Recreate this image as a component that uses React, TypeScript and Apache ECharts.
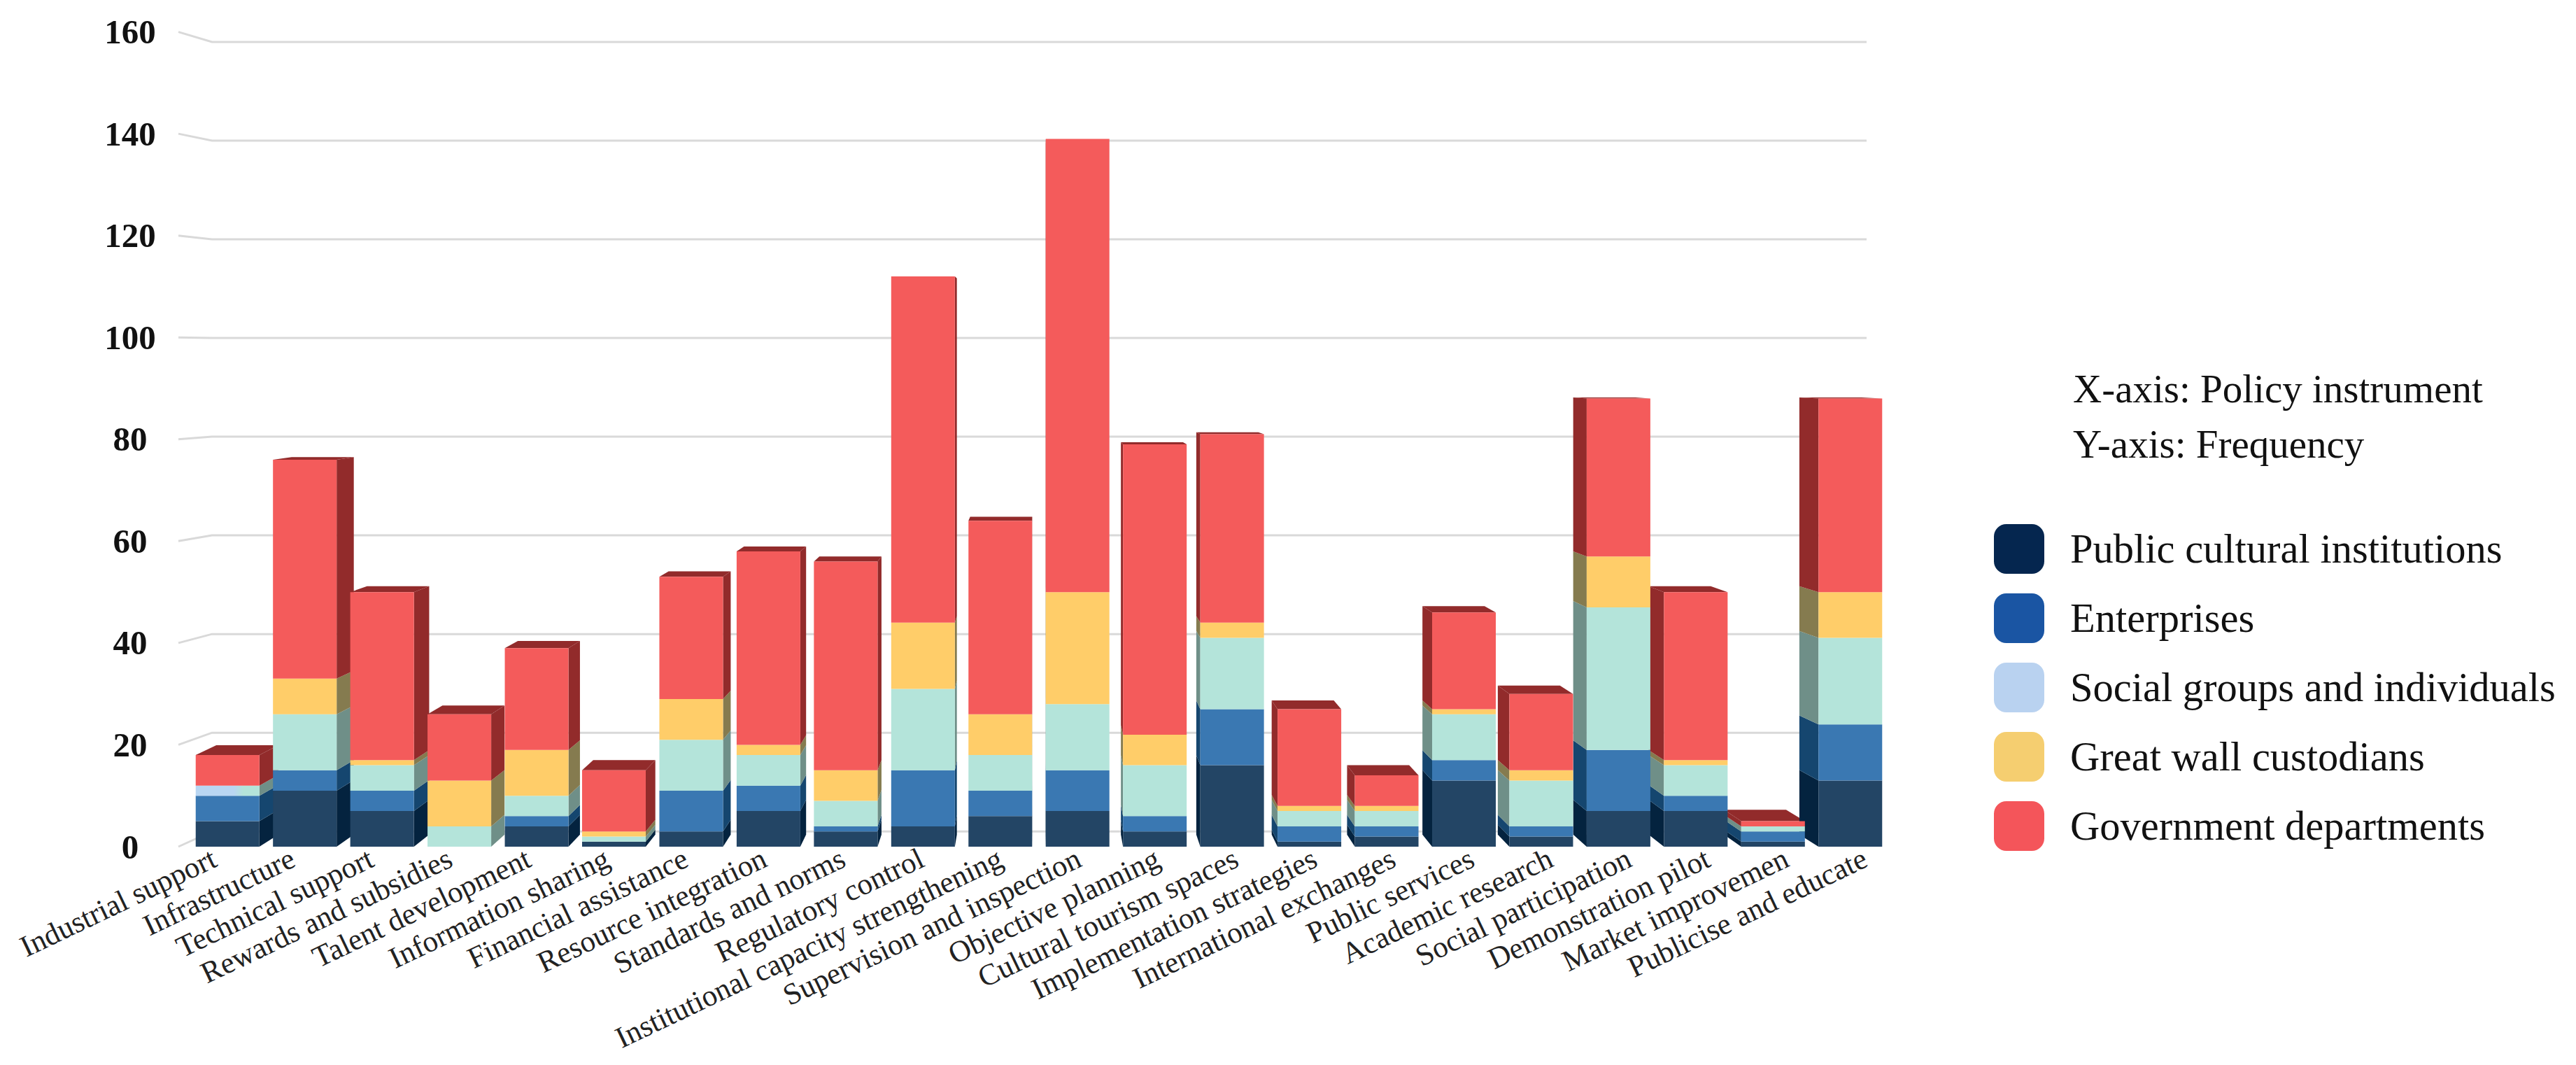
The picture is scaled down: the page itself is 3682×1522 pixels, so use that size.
import React, { useEffect, useRef } from "react";
import * as echarts from "echarts";

const categories = ["Industrial support","Infrastructure","Technical support","Rewards and subsidies","Talent development","Information sharing","Financial assistance","Resource integration","Standards and norms","Regulatory control","Institutional capacity strengthening","Supervision and inspection","Objective planning","Cultural tourism spaces","Implementation strategies","International exchanges","Public services","Academic research","Social participation","Demonstration pilot","Market improvemen","Publicise and educate"];
const publicInstitutions = [5,11,7,0,4,1,3,7,3,4,6,7,3,16,1,2,13,2,7,7,1,13];
const enterprises = [5,4,4,0,2,0,8,5,1,11,5,8,3,11,3,2,4,2,12,3,2,11];
const socialGroups = [2,11,5,4,4,1,10,6,5,16,7,13,10,14,3,3,9,9,28,6,1,17];
const custodians = [0,7,1,9,9,1,8,2,6,13,8,22,6,3,1,1,1,2,10,1,0,9];
const government = [6,43,33,13,20,12,24,38,41,68,38,89,57,37,19,6,19,15,31,33,1,38];
const seriesNames = ["Public cultural institutions","Enterprises","Social groups and individuals","Great wall custodians","Government departments"];
const seriesValues = [publicInstitutions, enterprises, socialGroups, custodians, government];
const frontColors = ["#234565","#3A78B2","#B4E4DA","#FFCD69","#F45B5B"];
const sideColors = ["#04233F","#15466F","#6F8F88","#857B4F","#922B2B"];
const legendColors = ["#05264F","#1A55A3","#B9D2F0","#F5CE70","#F4555A"];
const yTicks = [0,20,40,60,80,100,120,140,160];
const axisNotes = ["X-axis: Policy instrument","Y-axis: Frequency"];

const FONT = "'Liberation Serif', serif";
const VP_X = 1482, VP_Y = 507, DEPTH = 0.0245, WALL_DEPTH = 0.031, BAR_W = 91;

const faces: number[][] = [];
categories.forEach((_, i) => {
  let low = 0;
  const total = seriesValues.reduce((s, a) => s + a[i], 0);
  seriesValues.forEach((a, s) => {
    if (a[i] > 0) faces.push([i, low, low + a[i], s, low + a[i] === total ? 1 : 0]);
    low += a[i];
  });
});

const proj = (x: number, y: number) => [x + DEPTH * (VP_X - x), y + DEPTH * (VP_Y - y)];

const renderFaces = (_: any, api: any) => {
  const i = api.value(0), lo = api.value(1), hi = api.value(2), s = api.value(3), isTop = api.value(4);
  const [cx, y0] = api.coord([i, lo]);
  const [, y1] = api.coord([i, hi]);
  const xL = cx - BAR_W / 2, xR = cx + BAR_W / 2;
  const children: any[] = [];
  const edge = xR < VP_X ? xR : xL > VP_X ? xL : null;
  if (edge !== null) {
    children.push({ type: "polygon", shape: { points: [[edge, y1], [edge, y0], proj(edge, y0), proj(edge, y1)] }, style: { fill: sideColors[s] } });
  }
  if (isTop && y1 > VP_Y) {
    children.push({ type: "polygon", shape: { points: [[xL, y1], [xR, y1], proj(xR, y1), proj(xL, y1)] }, style: { fill: "#922B2B" } });
  }
  return { type: "group", children };
};

const renderGrid = (_: any, api: any) => {
  const [, yf] = api.coord([0, api.value(1)]);
  const yb = yf + WALL_DEPTH * (VP_Y - yf);
  return { type: "polyline", shape: { points: [[255, yf], [303, yb], [2668, yb]] }, style: { stroke: "#D9D9D9", lineWidth: 3, fill: "none" } };
};

export default function App() {
  const ref = useRef<HTMLDivElement>(null);
  useEffect(() => {
    const chart = echarts.init(ref.current!, undefined, { renderer: "svg" });
    const gridBase = { top: 45.6, height: 1164.4 };
    chart.setOption({
      animation: false,
      backgroundColor: "#fff",
      grid: [
        { ...gridBase, left: 270, width: 2430 },
        { ...gridBase, left: 250, width: 2472 },
      ],
      xAxis: [
        { type: "category", gridIndex: 0, data: categories, axisLine: { show: false }, axisTick: { show: false }, axisLabel: { show: false } },
        { type: "category", gridIndex: 1, data: categories, axisLine: { show: false }, axisTick: { show: false },
          axisLabel: { interval: 0, rotate: 25.5, margin: 14, fontSize: 43, fontFamily: FONT, color: "#222" } },
      ],
      yAxis: [
        { type: "value", gridIndex: 0, min: 0, max: 160, interval: 20, axisLine: { show: false }, axisTick: { show: false }, splitLine: { show: false },
          axisLabel: { align: "center", margin: 84, fontSize: 49, fontWeight: "bold", fontFamily: FONT, color: "#111" } },
        { type: "value", gridIndex: 1, min: 0, max: 160, show: false, splitLine: { show: false } },
      ],
      legend: {
        orient: "vertical", left: 2850, top: 749, padding: 0, itemWidth: 72, itemHeight: 71, itemGap: 28, selectedMode: false, icon: "roundRect",
        textStyle: { fontSize: 58.5, fontFamily: FONT, color: "#111", padding: [0, 0, 0, 32] },
        data: seriesNames.map((name, s) => ({ name, itemStyle: { color: legendColors[s] } })),
      },
      graphic: axisNotes.map((text, i) => ({
        type: "text", x: 2963, y: 555 + i * 79, style: { text, font: `57px ${FONT}`, fill: "#111", verticalAlign: "middle" },
      })),
      series: [
        { type: "custom", z: 1, xAxisIndex: 0, yAxisIndex: 0, silent: true, clip: false, renderItem: renderGrid, data: yTicks.map((v) => [0, v]), encode: { x: 0, y: 1 } },
        { type: "custom", z: 2, xAxisIndex: 0, yAxisIndex: 0, silent: true, clip: false, renderItem: renderFaces, data: faces, encode: { x: 0, y: [1, 2] } },
        ...seriesNames.map((name, s) => ({
          type: "bar", name, stack: "total", z: 3, xAxisIndex: 0, yAxisIndex: 0, barWidth: BAR_W,
          itemStyle: { color: frontColors[s] },
          data: seriesValues[s].map((v, i) =>
            s === 2 && i === 0
              ? { value: v, itemStyle: { color: new echarts.graphic.LinearGradient(0, 0, 1, 0, [
                  { offset: 0, color: "#B9D6F2" }, { offset: 0.6, color: "#B9D6F2" }, { offset: 0.75, color: "#B4E4DA" }, { offset: 1, color: "#B4E4DA" },
                ]) } }
              : v),
        })),
      ],
    });
    return () => chart.dispose();
  }, []);
  return <div ref={ref} style={{ position: "absolute", left: 0, top: 0, width: 3682, height: 1522 }} />;
}
